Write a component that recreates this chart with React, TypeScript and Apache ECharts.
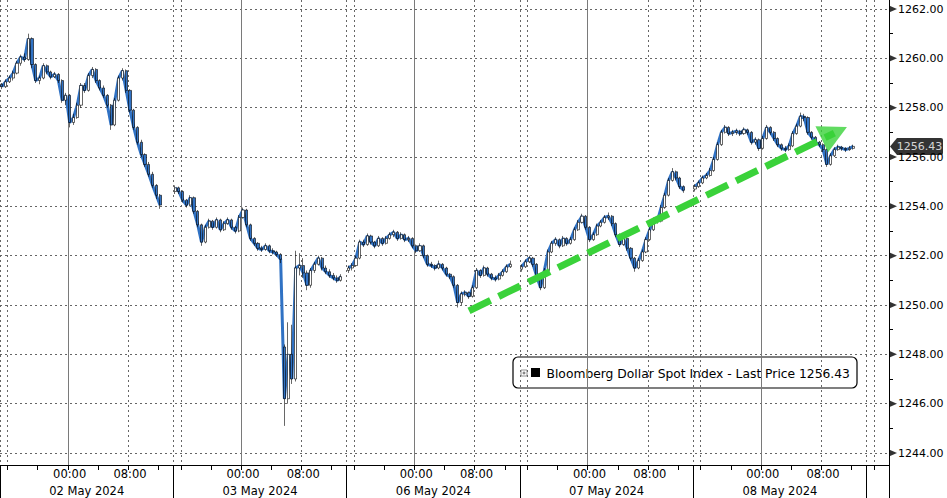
import React, { useEffect, useRef } from 'react';
import * as echarts from 'echarts';

const FONT = "'DejaVu Sans', sans-serif";
const BLUE = '#3072c4';
const GREEN = '#3ad23a';

const dayLabels = ['02 May 2024', '03 May 2024', '06 May 2024', '07 May 2024', '08 May 2024', '09 May 2024'];
const SLOTS_PER_DAY = 46; // half-hour slots, session 15:00 -> 14:00
const TOTAL_SLOTS = 236;
const yTicks = [1244, 1246, 1248, 1250, 1252, 1254, 1256, 1258, 1260, 1262];
const LAST_PRICE = 1256.43;
const LEGEND_TEXT = 'Bloomberg Dollar Spot Index - Last Price 1256.43';

// [open, close, low, high]
const may02 = [
  [1258.95, 1258.85, 1258.75, 1259.0], [1258.85, 1259.05, 1258.8, 1259.15], [1259.05, 1259.2, 1259.0, 1259.3],
  [1259.2, 1259.4, 1259.1, 1259.5], [1259.4, 1259.8, 1259.35, 1259.9], [1259.8, 1260.05, 1259.7, 1260.15],
  [1260.05, 1259.95, 1259.85, 1260.2], [1259.95, 1260.8, 1259.9, 1261.0], [1260.8, 1259.75, 1259.6, 1260.85],
  [1259.75, 1259.1, 1259.0, 1259.8], [1259.1, 1259.2, 1258.95, 1259.3], [1259.2, 1259.7, 1259.15, 1259.8],
  [1259.7, 1259.45, 1259.35, 1259.75], [1259.45, 1259.25, 1259.15, 1259.5], [1259.25, 1259.35, 1259.2, 1259.45],
  [1259.35, 1259.1, 1259.0, 1259.4], [1259.1, 1258.3, 1258.2, 1259.15], [1258.3, 1258.5, 1258.1, 1258.6],
  [1258.5, 1257.4, 1257.2, 1258.55], [1257.4, 1257.6, 1257.3, 1257.75], [1257.6, 1258.1, 1257.55, 1258.2],
  [1258.1, 1258.9, 1258.0, 1259.0], [1258.9, 1258.7, 1258.6, 1259.0], [1258.7, 1259.3, 1258.65, 1259.4],
  [1259.3, 1259.55, 1259.2, 1259.65], [1259.55, 1259.1, 1259.0, 1259.6], [1259.1, 1258.8, 1258.7, 1259.15],
  [1258.8, 1258.5, 1258.4, 1258.9], [1258.5, 1258.1, 1258.0, 1258.55], [1258.1, 1257.3, 1257.1, 1258.15],
  [1257.3, 1258.3, 1257.25, 1258.4], [1258.3, 1259.2, 1258.25, 1259.3], [1259.2, 1259.5, 1259.1, 1259.6],
  [1259.5, 1258.7, 1258.6, 1259.55], [1258.7, 1257.9, 1257.8, 1258.75], [1257.9, 1257.2, 1257.1, 1257.95],
  [1257.2, 1256.6, 1256.5, 1257.25], [1256.6, 1256.1, 1256.0, 1256.7], [1256.1, 1255.7, 1255.6, 1256.15],
  [1255.7, 1255.3, 1255.2, 1255.8], [1255.3, 1254.85, 1254.75, 1255.4], [1254.85, 1254.45, 1254.3, 1254.9],
  [1254.45, 1254.05, 1253.9, 1254.5],
];

const may03 = [
  [1254.6, 1254.75, 1254.5, 1254.85], [1254.75, 1254.6, 1254.5, 1254.8], [1254.6, 1254.25, 1254.15, 1254.65],
  [1254.25, 1254.05, 1253.95, 1254.3], [1254.05, 1254.35, 1254.0, 1254.45], [1254.35, 1253.8, 1253.7, 1254.4],
  [1253.8, 1253.25, 1253.15, 1253.85], [1253.25, 1252.55, 1252.4, 1253.3], [1252.55, 1253.15, 1252.5, 1253.25],
  [1253.15, 1253.4, 1253.1, 1253.5], [1253.4, 1253.15, 1253.05, 1253.45], [1253.15, 1253.45, 1253.1, 1253.55],
  [1253.45, 1253.05, 1252.95, 1253.5], [1253.05, 1253.3, 1253.0, 1253.4], [1253.3, 1253.45, 1253.25, 1253.55],
  [1253.45, 1253.15, 1253.05, 1253.5], [1253.15, 1253.0, 1252.9, 1253.2], [1253.0, 1253.55, 1252.95, 1253.65],
  [1253.55, 1253.85, 1253.5, 1253.95], [1253.85, 1253.25, 1253.15, 1253.9], [1253.25, 1252.7, 1252.6, 1253.3],
  [1252.7, 1252.5, 1252.4, 1252.75], [1252.5, 1252.3, 1252.2, 1252.55], [1252.3, 1252.25, 1252.15, 1252.4],
  [1252.25, 1252.4, 1252.2, 1252.5], [1252.4, 1252.2, 1252.1, 1252.45], [1252.2, 1252.15, 1252.05, 1252.3],
  [1252.15, 1252.05, 1251.95, 1252.2], [1252.05, 1251.85, 1251.7, 1252.1], [1248.3, 1246.2, 1245.1, 1248.4],
  [1246.2, 1248.0, 1246.0, 1249.3], [1248.0, 1247.0, 1246.8, 1249.2], [1247.0, 1251.5, 1246.9, 1252.2],
  [1251.5, 1251.6, 1251.2, 1252.1], [1251.6, 1251.3, 1251.1, 1251.9], [1251.3, 1250.8, 1250.6, 1251.4],
  [1250.8, 1251.4, 1250.7, 1251.5], [1251.4, 1251.65, 1251.3, 1251.75], [1251.65, 1251.9, 1251.6, 1252.0],
  [1251.9, 1251.5, 1251.4, 1251.95], [1251.5, 1251.35, 1251.25, 1251.6], [1251.35, 1251.2, 1251.1, 1251.45],
  [1251.2, 1251.1, 1251.0, 1251.3], [1251.1, 1251.0, 1250.9, 1251.2], [1251.0, 1251.15, 1250.95, 1251.25],
];

const may06 = [
  [1251.4, 1251.5, 1251.3, 1251.6], [1251.5, 1251.6, 1251.4, 1251.7], [1251.6, 1251.9, 1251.55, 1252.0],
  [1251.9, 1252.55, 1251.85, 1252.65], [1252.55, 1252.45, 1252.35, 1252.65], [1252.45, 1252.8, 1252.4, 1252.9],
  [1252.8, 1252.55, 1252.45, 1252.85], [1252.55, 1252.4, 1252.3, 1252.6], [1252.4, 1252.7, 1252.35, 1252.8],
  [1252.7, 1252.5, 1252.4, 1252.75], [1252.5, 1252.7, 1252.45, 1252.8], [1252.7, 1252.85, 1252.65, 1252.95],
  [1252.85, 1252.95, 1252.75, 1253.05], [1252.95, 1252.7, 1252.6, 1253.0], [1252.7, 1252.85, 1252.65, 1252.95],
  [1252.85, 1252.65, 1252.55, 1252.9], [1252.65, 1252.7, 1252.55, 1252.8], [1252.7, 1252.4, 1252.3, 1252.75],
  [1252.4, 1252.2, 1252.1, 1252.45], [1252.2, 1252.4, 1252.15, 1252.5], [1252.4, 1252.0, 1251.9, 1252.45],
  [1252.0, 1251.65, 1251.55, 1252.05], [1251.65, 1251.6, 1251.5, 1251.75], [1251.6, 1251.5, 1251.4, 1251.65],
  [1251.5, 1251.65, 1251.45, 1251.8], [1251.65, 1251.5, 1251.4, 1251.7], [1251.5, 1251.25, 1251.15, 1251.55],
  [1251.25, 1251.15, 1251.05, 1251.3], [1251.15, 1250.8, 1250.7, 1251.2], [1250.8, 1250.1, 1249.9, 1250.85],
  [1250.1, 1250.45, 1250.0, 1250.55], [1250.45, 1250.5, 1250.35, 1250.6], [1250.5, 1250.35, 1250.25, 1250.55],
  [1250.35, 1250.7, 1250.3, 1250.8], [1250.7, 1251.4, 1250.65, 1251.5], [1251.4, 1251.2, 1251.1, 1251.45],
  [1251.2, 1251.5, 1251.15, 1251.6], [1251.5, 1251.25, 1251.15, 1251.55], [1251.25, 1251.1, 1251.0, 1251.3],
  [1251.1, 1251.05, 1250.95, 1251.2], [1251.05, 1251.2, 1251.0, 1251.3], [1251.2, 1251.35, 1251.15, 1251.45],
  [1251.35, 1251.55, 1251.3, 1251.65], [1251.55, 1251.65, 1251.5, 1251.8],
];

const may07 = [
  [1251.45, 1251.55, 1251.35, 1251.65], [1251.55, 1251.75, 1251.5, 1251.85], [1251.75, 1251.9, 1251.7, 1252.0],
  [1251.9, 1251.65, 1251.55, 1251.95], [1251.65, 1251.15, 1251.05, 1251.7], [1251.15, 1250.7, 1250.6, 1251.2],
  [1250.7, 1251.4, 1250.65, 1251.5], [1251.4, 1252.15, 1251.35, 1252.25], [1252.15, 1252.5, 1252.1, 1252.6],
  [1252.5, 1252.65, 1252.4, 1252.75], [1252.65, 1252.4, 1252.3, 1252.7], [1252.4, 1252.7, 1252.35, 1252.8],
  [1252.7, 1252.5, 1252.4, 1252.75], [1252.5, 1252.65, 1252.45, 1252.75], [1252.65, 1253.05, 1252.6, 1253.15],
  [1253.05, 1253.35, 1253.0, 1253.45], [1253.35, 1253.6, 1253.3, 1253.7], [1253.6, 1253.15, 1253.05, 1253.65],
  [1253.15, 1252.65, 1252.55, 1253.2], [1252.65, 1252.85, 1252.6, 1252.95], [1252.85, 1253.2, 1252.8, 1253.3],
  [1253.2, 1253.35, 1253.15, 1253.45], [1253.35, 1253.55, 1253.3, 1253.65], [1253.55, 1253.6, 1253.45, 1253.75],
  [1253.6, 1253.3, 1253.2, 1253.65], [1253.3, 1252.85, 1252.75, 1253.35], [1252.85, 1252.45, 1252.35, 1252.9],
  [1252.45, 1252.7, 1252.4, 1252.8], [1252.7, 1252.3, 1252.2, 1252.75], [1252.3, 1251.9, 1251.8, 1252.35],
  [1251.9, 1251.5, 1251.35, 1251.95], [1251.5, 1251.8, 1251.45, 1251.9], [1251.8, 1252.15, 1251.75, 1252.25],
  [1252.15, 1252.65, 1252.1, 1252.75], [1252.65, 1253.05, 1252.6, 1253.15], [1253.05, 1253.45, 1253.0, 1253.55],
  [1253.45, 1253.4, 1253.3, 1253.55], [1253.4, 1253.95, 1253.35, 1254.05], [1253.95, 1254.45, 1253.9, 1254.55],
  [1254.45, 1255.05, 1254.4, 1255.15], [1255.05, 1255.4, 1255.0, 1255.55], [1255.4, 1255.15, 1255.05, 1255.45],
  [1255.15, 1254.8, 1254.7, 1255.2], [1254.8, 1254.65, 1254.55, 1254.85],
];

const may08 = [
  [1254.7, 1254.8, 1254.6, 1254.9], [1254.8, 1254.95, 1254.75, 1255.05], [1254.95, 1255.15, 1254.9, 1255.25],
  [1255.15, 1255.25, 1255.1, 1255.35], [1255.25, 1255.45, 1255.2, 1255.55], [1255.45, 1255.9, 1255.4, 1256.0],
  [1255.9, 1256.5, 1255.85, 1256.6], [1256.5, 1257.0, 1256.45, 1257.1], [1257.0, 1257.2, 1256.95, 1257.3],
  [1257.2, 1256.95, 1256.85, 1257.25], [1256.95, 1257.0, 1256.85, 1257.1], [1257.0, 1257.05, 1256.9, 1257.15],
  [1257.05, 1256.95, 1256.85, 1257.1], [1256.95, 1257.1, 1256.9, 1257.2], [1257.1, 1257.0, 1256.9, 1257.15],
  [1257.0, 1256.6, 1256.5, 1257.05], [1256.6, 1256.7, 1256.5, 1256.8], [1256.7, 1256.35, 1256.25, 1256.75],
  [1256.35, 1256.75, 1256.3, 1256.85], [1256.75, 1257.2, 1256.7, 1257.3], [1257.2, 1257.0, 1256.9, 1257.25],
  [1257.0, 1256.75, 1256.65, 1257.05], [1256.75, 1256.5, 1256.4, 1256.8], [1256.5, 1256.35, 1256.25, 1256.55],
  [1256.35, 1256.3, 1256.2, 1256.45], [1256.3, 1256.45, 1256.25, 1256.55], [1256.45, 1256.95, 1256.4, 1257.05],
  [1256.95, 1257.25, 1256.9, 1257.35], [1257.25, 1257.65, 1257.2, 1257.8], [1257.65, 1257.6, 1257.45, 1257.75],
  [1257.6, 1257.0, 1256.9, 1257.65], [1257.0, 1256.8, 1256.7, 1257.05], [1256.8, 1256.6, 1256.5, 1256.85],
  [1256.6, 1256.5, 1256.4, 1256.65], [1256.5, 1256.3, 1256.2, 1256.55], [1256.3, 1255.7, 1255.6, 1256.35],
  [1255.7, 1256.05, 1255.65, 1256.15], [1256.05, 1256.3, 1256.0, 1256.4], [1256.3, 1256.4, 1256.25, 1256.5],
  [1256.4, 1256.35, 1256.25, 1256.45], [1256.35, 1256.3, 1256.2, 1256.4], [1256.3, 1256.35, 1256.25, 1256.45],
  [1256.35, 1256.43, 1256.3, 1256.5],
];

const sessions = [may02, may03, may06, may07, may08];

// arrow annotation endpoints in data space: [slot index, price]
const arrowStart = [124, 1249.76];
const arrowEnd = [221, 1256.97];

const pad = (n: number) => (n < 10 ? '0' + n : '' + n);

function buildCategories(): string[] {
  const cats: string[] = [];
  for (let i = 0; i < TOTAL_SLOTS; i++) {
    const k = Math.floor(i / SLOTS_PER_DAY);
    const j = i % SLOTS_PER_DAY;
    const minutes = 15 * 60 + j * 30;
    const hh = Math.floor(minutes / 60) % 24;
    const mm = minutes % 60;
    cats.push(dayLabels[k] + ' ' + pad(hh) + ':' + pad(mm));
  }
  return cats;
}

export default function App() {
  const ref = useRef<HTMLDivElement>(null);

  useEffect(() => {
    if (!ref.current) return;
    const chart = echarts.init(ref.current, undefined, { renderer: 'svg' });

    const categories = buildCategories();
    const empty = ['-', '-', '-', '-'];
    const candles: any[] = [];
    for (let i = 0; i < TOTAL_SLOTS; i++) candles.push(empty);
    sessions.forEach((arr, k) => {
      arr.forEach((t, j) => {
        candles[k * SLOTS_PER_DAY + j] = t;
      });
    });
    const closes = candles.map((t) => (t[0] === '-' ? null : t[1]));

    const tickSlots = [2, 10, 18, 26, 34, 42];
    const dottedSlots = [0, 2, 34];

    const option: any = {
      animation: false,
      backgroundColor: '#ffffff',
      textStyle: { fontFamily: FONT },
      grid: [
        { left: 0, right: 58, top: 0, bottom: 33 },
        { left: 0, right: 58, top: 9, bottom: 45 },
      ],
      xAxis: [
        {
          type: 'category',
          gridIndex: 0,
          data: categories,
          position: 'bottom',
          boundaryGap: true,
          axisLine: { show: true, onZero: false, lineStyle: { color: '#000', width: 1 } },
          axisTick: {
            show: true,
            length: 5,
            interval: (i: number) => tickSlots.includes(i % SLOTS_PER_DAY),
            lineStyle: { color: '#000', width: 1 },
          },
          axisLabel: {
            show: true,
            interval: (i: number) => i % SLOTS_PER_DAY === 18 || i % SLOTS_PER_DAY === 34,
            formatter: (v: string) => v.slice(-5),
            margin: 3,
            fontSize: 11.5,
            color: '#000',
            fontFamily: FONT,
          },
          splitLine: {
            show: true,
            interval: (i: number) => i % SLOTS_PER_DAY === 18,
            lineStyle: { color: '#7a7a7a', width: 1, type: 'solid' },
          },
        },
        {
          type: 'category',
          gridIndex: 0,
          data: categories,
          position: 'bottom',
          boundaryGap: true,
          axisLine: { show: false, onZero: false },
          axisTick: {
            show: true,
            length: 33,
            interval: (i: number) => i % SLOTS_PER_DAY === 0,
            lineStyle: { color: '#000', width: 1 },
          },
          axisLabel: {
            show: true,
            interval: (i: number) => i % SLOTS_PER_DAY === 22 && i < SLOTS_PER_DAY * 5,
            formatter: (v: string) => v.slice(0, -6),
            margin: 20,
            padding: [0, 0, 0, 4],
            fontSize: 11.5,
            color: '#000',
            fontFamily: FONT,
          },
          splitLine: {
            show: true,
            interval: (i: number) => dottedSlots.includes(i % SLOTS_PER_DAY),
            lineStyle: { color: '#666', width: 1, type: [2, 3] },
          },
        },
        { type: 'value', gridIndex: 1, min: 0, max: 1, show: false },
      ],
      yAxis: [
        {
          type: 'value',
          gridIndex: 0,
          min: 1243.514,
          max: 1262.365,
          position: 'right',
          axisLine: { show: true, onZero: false, lineStyle: { color: '#000', width: 1 } },
          axisTick: { show: false },
          axisLabel: { show: false },
          splitLine: { show: false },
        },
        {
          type: 'value',
          gridIndex: 1,
          min: 1244,
          max: 1262,
          interval: 2,
          position: 'right',
          axisLine: { show: false, onZero: false },
          axisTick: { show: false },
          minorTick: { show: true, splitNumber: 2, length: 4, lineStyle: { color: '#000', width: 1 } },
          axisLabel: {
            formatter: (v: number) => v.toFixed(2),
            margin: 9,
            fontSize: 11,
            color: '#000',
            fontFamily: FONT,
          },
          splitLine: { show: true, lineStyle: { color: '#666', width: 1, type: [2, 3] } },
        },
      ],
      series: [
        {
          type: 'line',
          xAxisIndex: 0,
          yAxisIndex: 0,
          data: closes,
          symbol: 'none',
          showSymbol: false,
          connectNulls: false,
          lineStyle: { color: BLUE, width: 3 },
          z: 2,
          silent: true,
        },
        {
          type: 'candlestick',
          xAxisIndex: 0,
          yAxisIndex: 0,
          data: candles,
          barWidth: 2.6,
          itemStyle: {
            color: '#ffffff',
            color0: BLUE,
            borderColor: '#000',
            borderColor0: '#000',
            borderWidth: 0.6,
          },
          z: 3,
          silent: true,
        },
        {
          type: 'line',
          name: 'trend',
          xAxisIndex: 0,
          yAxisIndex: 0,
          data: [],
          color: GREEN,
          lineStyle: { color: GREEN },
          z: 5,
          silent: true,
          markLine: {
            silent: true,
            symbol: ['none', 'none'],
            label: { show: false },
            lineStyle: { color: GREEN, width: 7, type: [24, 9], opacity: 1 },
            emphasis: { disabled: true },
            data: [[{ coord: arrowStart }, { coord: arrowEnd }]],
          },
        },
        {
          type: 'scatter',
          name: 'arrowhead',
          xAxisIndex: 0,
          yAxisIndex: 0,
          data: [arrowEnd],
          symbol: 'triangle',
          symbolSize: [29, 28],
          symbolRotate: -64,
          itemStyle: { color: GREEN },
          clip: false,
          silent: true,
          z: 5,
        },
        {
          type: 'scatter',
          xAxisIndex: 2,
          yAxisIndex: 1,
          data: yTicks.map((v) => [1, v]),
          symbol: 'triangle',
          symbolRotate: -90,
          symbolSize: [7, 8],
          symbolOffset: [4, 0],
          itemStyle: { color: '#000' },
          clip: false,
          silent: true,
          z: 4,
        },
        {
          type: 'scatter',
          xAxisIndex: 2,
          yAxisIndex: 1,
          data: [[1, LAST_PRICE]],
          symbol: 'path://M0,8.5L7,0L51,0Q53,0,53,2L53,15Q53,17,51,17L7,17Z',
          symbolSize: [53, 17],
          symbolKeepAspect: false,
          symbolOffset: [27.5, 0],
          itemStyle: { color: '#000' },
          label: {
            show: true,
            position: 'inside',
            formatter: () => LAST_PRICE.toFixed(2),
            color: '#fff',
            fontSize: 11,
            fontFamily: FONT,
            offset: [3, 0],
          },
          clip: false,
          silent: true,
          z: 6,
        },
      ],
      graphic: [
        {
          type: 'group',
          x: 513,
          y: 357,
          z: 100,
          children: [
            { type: 'rect', shape: { x: 0, y: 0, width: 344, height: 31, r: 5 }, style: { fill: '#fff', stroke: '#000', lineWidth: 1.2 } },
            { type: 'rect', shape: { x: 8, y: 13, width: 6, height: 6 }, style: { fill: '#fff', stroke: '#777', lineWidth: 0.8 } },
            { type: 'line', shape: { x1: 9.5, y1: 16, x2: 12.5, y2: 16 }, style: { stroke: '#444', lineWidth: 0.8 } },
            { type: 'line', shape: { x1: 11, y1: 14.5, x2: 11, y2: 17.5 }, style: { stroke: '#444', lineWidth: 0.8 } },
            { type: 'rect', shape: { x: 18, y: 11, width: 9, height: 9 }, style: { fill: '#000' } },
            {
              type: 'text',
              x: 33.5,
              y: 17,
              style: { text: LEGEND_TEXT, fontSize: 12.3, fontFamily: FONT, fill: '#000', verticalAlign: 'middle', align: 'left' },
            },
          ],
        },
      ],
    };

    chart.setOption(option);
    return () => chart.dispose();
  }, []);

  return (
    <div
      ref={ref}
      style={{ position: 'fixed', left: 0, top: 0, width: 947, height: 498, background: '#fff' }}
    />
  );
}
